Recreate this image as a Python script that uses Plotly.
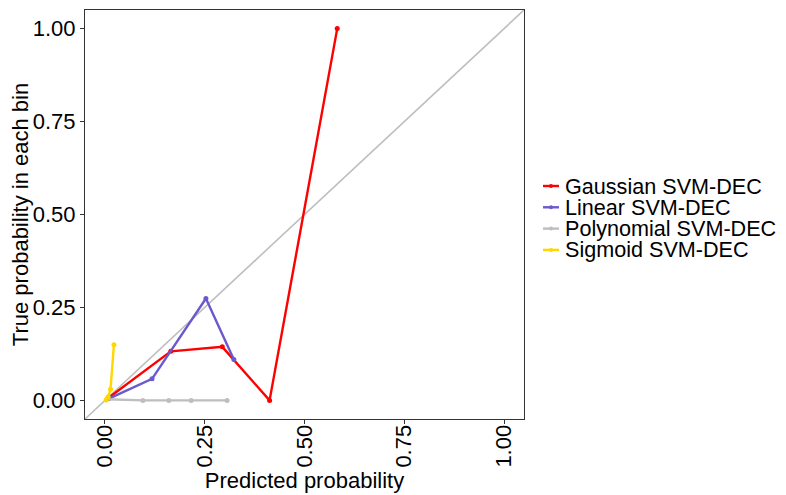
import plotly.graph_objects as go

# Data
gauss_x = [0.010, 0.165, 0.294, 0.4125, 0.582]
gauss_y = [0.008, 0.132, 0.144, 0.000, 1.000]

linear_x = [0.010, 0.118, 0.253, 0.323]
linear_y = [0.005, 0.058, 0.274, 0.110]

poly_x = [0.005, 0.095, 0.160, 0.216, 0.306]
poly_y = [0.003, 0.000, 0.000, 0.000, 0.000]

sig_x = [0.003, 0.008, 0.014, 0.0225]
sig_y = [0.001, 0.010, 0.030, 0.150]

diag = [-0.2, 1.2]

tick_vals = [0.0, 0.25, 0.5, 0.75, 1.0]
tick_text = ["0.00", "0.25", "0.50", "0.75", "1.00"]

series_names = ["Gaussian SVM-DEC", "Linear SVM-DEC", "Polynomial SVM-DEC", "Sigmoid SVM-DEC"]
series_colors = ["#FF0000", "#6A5ACD", "#BEBEBE", "#FFD700"]
series_x = [gauss_x, linear_x, poly_x, sig_x]
series_y = [gauss_y, linear_y, poly_y, sig_y]

# Layout geometry (pixels inside the figure)
W, H = 778, 487
L, T = 77, 2
PW, PH = 439, 409
R = W - L - PW
B = H - T - PH

font = "Liberation Sans, Arial, sans-serif"
FS = 22
LFS = 21.6

fig = go.Figure()
fig.add_trace(go.Scatter(x=diag, y=diag, mode="lines",
                         line=dict(color="#BEBEBE", width=1.6),
                         showlegend=False, hoverinfo="skip"))
for name, xs, ys, col in zip(series_names, series_x, series_y, series_colors):
    fig.add_trace(go.Scatter(x=xs, y=ys, mode="lines+markers", name=name,
                             line=dict(color=col, width=2.4),
                             marker=dict(color=col, size=5),
                             showlegend=False))

# Manual legend (keys and labels) placed right of the panel
def px_to_paper(px, py):
    return (px - L) / PW, (T + PH - py) / PH

shapes = []
annotations = []
row0 = 178
gap = 21.3
for i, (name, col) in enumerate(zip(series_names, series_colors)):
    cy = row0 + gap * i
    x0, y0 = px_to_paper(535, cy)
    x1, _ = px_to_paper(551, cy)
    shapes.append(dict(type="line", xref="paper", yref="paper",
                       x0=x0, x1=x1, y0=y0, y1=y0,
                       line=dict(color=col, width=2.4)))
    cx0, cy0 = px_to_paper(541, cy - 2)
    cx1, cy1 = px_to_paper(545, cy + 2)
    shapes.append(dict(type="circle", xref="paper", yref="paper",
                       x0=cx0, x1=cx1, y0=cy1, y1=cy0,
                       fillcolor=col, line=dict(color=col, width=0)))
    tx, ty = px_to_paper(556, cy)
    annotations.append(dict(text=name, xref="paper", yref="paper",
                            x=tx, y=ty, xanchor="left", yanchor="middle",
                            showarrow=False, borderpad=0,
                            font=dict(family=font, size=LFS, color="#000000")))

axis_common = dict(
    range=[-0.05, 1.05], tickvals=tick_vals, ticktext=tick_text,
    showgrid=False, zeroline=False, showline=True, mirror=True,
    linecolor="#333333", linewidth=1, ticks="outside", ticklen=4,
    tickcolor="#333333", tickwidth=1,
    tickfont=dict(family=font, size=FS, color="#000000"),
)

fig.update_layout(
    width=W, height=H,
    margin=dict(l=L, r=R, t=T, b=B, autoexpand=False),
    paper_bgcolor="white", plot_bgcolor="white",
    font=dict(family=font, size=FS, color="#000000"),
    showlegend=False,
    xaxis=dict(**axis_common, tickangle=-90, ticklabelstandoff=-8,
               title=dict(text="Predicted probability", standoff=2,
                          font=dict(family=font, size=FS, color="#000000"))),
    yaxis=dict(**axis_common,
               title=dict(text="True probability in each bin", standoff=4,
                          font=dict(family=font, size=FS, color="#000000"))),
    shapes=shapes,
    annotations=annotations,
)

fig.write_html("out.html")
